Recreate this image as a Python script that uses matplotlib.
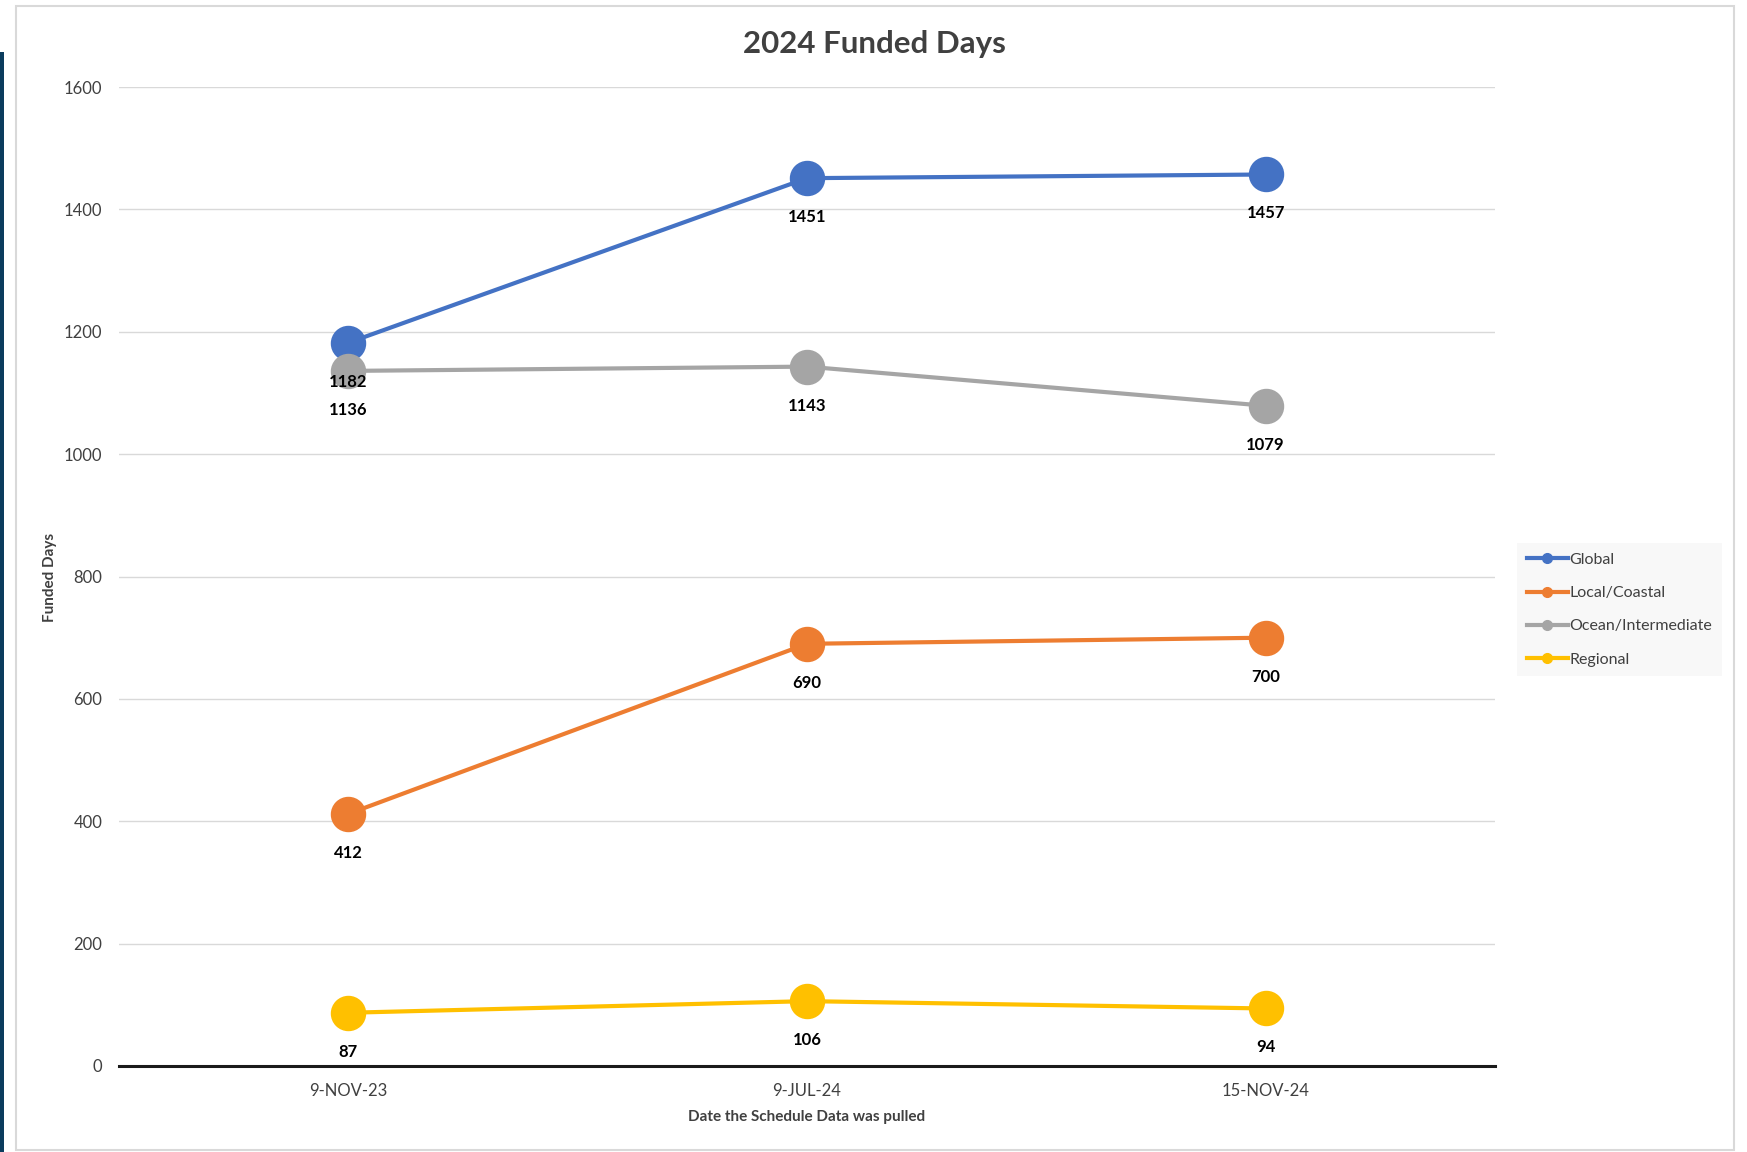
import matplotlib
matplotlib.use("Agg")
import matplotlib.pyplot as plt
from matplotlib.patches import Rectangle
from matplotlib.lines import Line2D

plt.rcParams['font.family'] = ['Lato', 'DejaVu Sans']

# data
dates = ["9-NOV-23", "9-JUL-24", "15-NOV-24"]
global_days = [1182, 1451, 1457]
local_days = [412, 690, 700]
ocean_days = [1136, 1143, 1079]
regional_days = [87, 106, 94]

series = [
    ("Global", global_days, "#4472C4"),
    ("Local/Coastal", local_days, "#ED7D31"),
    ("Ocean/Intermediate", ocean_days, "#A5A5A5"),
    ("Regional", regional_days, "#FFC000"),
]
yticks = [0, 200, 400, 600, 800, 1000, 1200, 1400, 1600]

W, H = 1747, 1152
fig = plt.figure(figsize=(W / 100, H / 100), dpi=100)

# outer frame and the dark strip at the left edge
fig.patches.append(Rectangle((16 / W, 2 / H), (1734 - 16) / W, (1146 - 2) / H,
                             transform=fig.transFigure, fill=False,
                             edgecolor="#D9D9D9", lw=1.5))
fig.patches.append(Rectangle((0, 0), 4 / W, (H - 52) / H,
                             transform=fig.transFigure, facecolor="#0B3C5D",
                             edgecolor="none"))

ax = fig.add_axes([119 / W, 86 / H, (1495 - 119) / W, (1066 - 87) / H])
x = list(range(len(dates)))

for name, vals, col in series:
    ax.plot(x, vals, color=col, lw=3, marker="o", markersize=24.5,
            label=name, zorder=3, solid_capstyle="round")

# value labels sit under each point, above every line
for name, vals, col in series:
    for xi, v in zip(x, vals):
        ax.annotate(str(v), (xi, v), xytext=(0, -28), textcoords="offset points",
                    ha="center", va="center", fontsize=12, fontweight="bold",
                    color="#000000", zorder=5)

ax.set_xlim(-0.5, len(dates) - 0.5)
ax.set_ylim(0, 1600)
ax.set_yticks(yticks)
ax.set_xticks(x)
ax.set_xticklabels(dates)
ax.grid(axis="y", color="#D9D9D9", lw=1)
ax.set_axisbelow(True)
for s in ["top", "right", "left"]:
    ax.spines[s].set_visible(False)
ax.spines["bottom"].set_color("#1a1a1a")
ax.spines["bottom"].set_linewidth(2.2)
ax.spines["bottom"].set_zorder(4)
ax.tick_params(axis="both", length=0, labelsize=12, labelcolor="#404040", pad=12)

fig.text(874 / W, 1 - 44 / H, "2024 Funded Days", ha="center", va="center",
         fontsize=22.5, fontweight="bold", color="#404040")
fig.text(50 / W, 1 - 577 / H, "Funded Days", rotation=90, ha="center",
         va="center", fontsize=11, fontweight="bold", color="#404040")
fig.text(807 / W, 1 - 1117 / H, "Date the Schedule Data was pulled",
         ha="center", va="center", fontsize=11, fontweight="bold", color="#404040")

labels = [name for name, _, _ in series]
small = [Line2D([], [], color=c, lw=3, marker="o", markersize=7) for _, _, c in series]
leg = fig.legend(small, labels, loc="upper left",
                 bbox_to_anchor=(1517 / W, 1 - 543 / H), borderaxespad=0,
                 frameon=True, fontsize=11.5, handlelength=2.6, handletextpad=0.1,
                 labelspacing=1.2, borderpad=0.6, fancybox=False)
leg.get_frame().set_facecolor("#F7F7F7")
leg.get_frame().set_edgecolor("none")
for t in leg.get_texts():
    t.set_color("#404040")

fig.savefig("out.png", dpi=100)
